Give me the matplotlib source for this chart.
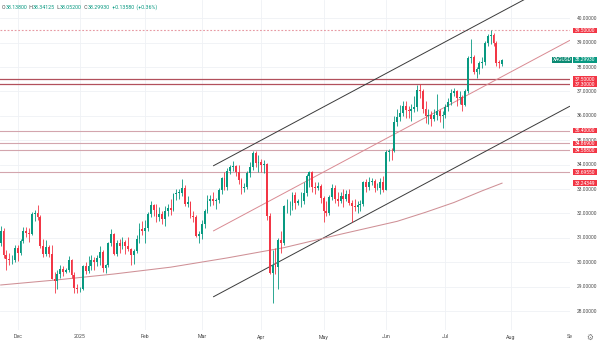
import matplotlib
matplotlib.use("Agg")
import matplotlib.pyplot as plt
import matplotlib.transforms as mtransforms
from matplotlib.patches import Rectangle
import numpy as np
import pandas as pd

plt.rcParams["font.family"] = ["Roboto", "DejaVu Sans"]

symbol = "XAGUSD"
first_day = "2024-11-22"
last_day = "2025-07-29"
axis_last_day = "2025-09-30"

# Daily OHLC, XAGUSD
opens = [30.80, 31.28, 30.30, 30.15, 30.08, 30.10, 30.60, 30.38, 30.89, 31.29,
         31.22, 31.18, 31.96, 32.03, 31.87, 30.68, 30.34, 30.61, 30.36, 29.33,
         29.24, 29.53, 29.71, 29.62, 29.70, 30.10, 29.46, 28.96, 28.89, 28.92,
         29.83, 29.66, 29.86, 30.10, 30.00, 30.18, 30.42, 29.76, 29.88, 30.80,
         31.15, 30.35, 30.81, 30.67, 30.84, 30.66, 30.56, 30.28, 30.48, 30.97,
         31.36, 31.30, 31.42, 31.97, 32.36, 32.16, 31.86, 31.96, 31.77, 32.10,
         32.22, 32.16, 32.80, 32.85, 32.85, 33.05, 32.38, 32.46, 31.91, 31.87,
         31.09, 31.16, 31.55, 32.09, 32.53, 32.58, 32.51, 32.57, 32.95, 33.45,
         33.08, 33.74, 33.90, 33.96, 33.69, 33.37, 33.05, 33.09, 33.65, 33.92,
         34.48, 34.08, 34.12, 33.98, 34.02, 31.90, 29.58, 29.87, 29.79, 30.90,
         30.78, 32.29, 32.30, 32.30, 32.74, 32.43, 32.50, 32.53, 32.86, 33.54,
         33.71, 33.09, 33.04, 33.14, 32.62, 32.12, 32.00, 32.68, 33.05, 32.60,
         32.52, 32.73, 32.58, 32.79, 32.42, 32.30, 32.26, 32.35, 32.38, 33.29,
         33.07, 33.28, 33.32, 33.03, 33.03, 33.30, 32.98, 34.52, 34.57, 34.55,
         35.77, 35.97, 36.11, 36.42, 36.24, 36.21, 36.29, 36.35, 37.05, 37.04,
         36.28, 36.00, 36.05, 35.89, 36.03, 36.19, 35.99, 36.03, 36.35, 36.59,
         36.94, 37.00, 36.74, 36.77, 36.44, 37.01, 38.38, 38.40, 37.79, 37.93,
         38.17, 38.19, 38.99, 39.28, 39.30, 38.98, 38.18, 38.138]
highs = [31.47, 31.42, 30.50, 30.40, 30.30, 30.70, 30.70, 30.95, 31.45, 31.45,
         31.40, 32.05, 32.15, 32.33, 31.95, 30.95, 30.90, 30.70, 30.70, 29.60,
         29.70, 29.90, 29.85, 29.75, 30.25, 30.15, 29.60, 29.10, 29.00, 29.90,
         30.00, 30.25, 30.30, 30.20, 30.30, 30.65, 30.50, 29.95, 30.85, 31.35,
         31.20, 30.90, 30.95, 31.05, 30.90, 31.05, 30.60, 30.55, 31.10, 31.60,
         31.70, 31.75, 32.05, 32.50, 32.40, 32.40, 32.25, 32.10, 32.30, 32.40,
         32.60, 32.85, 33.00, 33.00, 33.40, 33.15, 32.70, 32.50, 32.10, 31.95,
         31.30, 31.75, 32.20, 32.75, 32.75, 32.90, 32.65, 33.05, 33.50, 33.70,
         33.85, 34.00, 34.15, 34.00, 34.00, 33.45, 33.25, 33.75, 34.10, 34.55,
         34.58, 34.40, 34.25, 34.20, 34.05, 32.00, 30.50, 30.60, 31.00, 31.30,
         32.35, 32.60, 32.50, 32.90, 32.90, 32.60, 32.90, 33.30, 33.60, 33.75,
         33.75, 33.30, 33.30, 33.20, 32.70, 32.50, 32.75, 33.20, 33.15, 32.90,
         32.90, 33.00, 32.95, 33.00, 32.55, 32.60, 32.50, 32.55, 33.35, 33.40,
         33.50, 33.45, 33.40, 33.25, 33.45, 33.55, 34.60, 34.65, 34.70, 36.00,
         36.30, 36.45, 36.60, 36.60, 36.40, 36.50, 36.80, 37.25, 37.30, 37.10,
         36.60, 36.30, 36.20, 36.30, 36.90, 36.30, 36.20, 36.50, 36.75, 37.10,
         37.15, 37.05, 37.00, 36.85, 37.10, 38.45, 39.15, 38.50, 38.00, 38.25,
         38.40, 39.05, 39.35, 39.53, 39.40, 39.05, 38.30, 38.34125]
lows = [30.65, 30.18, 29.68, 29.90, 29.95, 30.00, 30.05, 30.30, 30.80, 31.05,
        30.85, 31.10, 31.70, 31.75, 30.60, 30.20, 30.25, 30.20, 29.30, 28.74,
        28.90, 29.35, 29.45, 29.55, 29.60, 29.35, 28.75, 28.75, 28.80, 28.85,
        29.50, 29.55, 29.70, 29.70, 29.85, 29.90, 29.60, 29.55, 29.80, 30.65,
        30.30, 30.25, 30.40, 30.55, 30.35, 30.45, 29.90, 29.95, 30.40, 30.80,
        31.10, 30.80, 31.30, 31.85, 31.90, 31.65, 31.70, 31.55, 31.50, 31.90,
        31.95, 32.10, 32.55, 32.60, 32.70, 32.30, 32.25, 31.80, 31.65, 31.05,
        30.80, 30.95, 31.40, 32.00, 32.30, 32.35, 32.20, 32.45, 32.80, 32.95,
        32.95, 33.60, 33.75, 33.55, 33.20, 32.80, 32.90, 33.00, 33.50, 33.80,
        33.90, 33.70, 33.70, 33.65, 31.75, 29.50, 28.33, 29.50, 28.90, 30.40,
        30.70, 32.00, 31.95, 32.15, 32.20, 32.35, 32.25, 32.40, 32.70, 33.10,
        32.90, 32.80, 32.95, 32.45, 31.65, 31.90, 31.95, 32.55, 32.45, 32.30,
        32.45, 32.25, 32.50, 32.35, 31.65, 32.10, 32.00, 32.10, 32.30, 32.90,
        32.95, 33.15, 32.90, 32.95, 32.80, 32.90, 32.95, 34.15, 34.20, 34.50,
        35.60, 35.80, 36.00, 35.90, 35.90, 35.80, 36.15, 36.20, 36.75, 36.10,
        35.70, 35.65, 35.60, 35.80, 35.85, 35.75, 35.50, 35.90, 36.20, 36.45,
        36.80, 36.40, 36.50, 36.20, 36.40, 36.95, 38.15, 37.70, 37.55, 37.70,
        37.95, 38.10, 38.85, 38.95, 38.85, 38.05, 37.95, 38.052]
closes = [31.28, 30.30, 30.15, 30.08, 30.10, 30.60, 30.38, 30.89, 31.29, 31.22,
          31.18, 31.96, 32.03, 31.87, 30.68, 30.34, 30.61, 30.36, 29.33, 29.24,
          29.53, 29.71, 29.62, 29.70, 30.10, 29.46, 28.96, 28.89, 28.92, 29.83,
          29.66, 29.86, 30.10, 30.00, 30.18, 30.42, 29.76, 29.88, 30.80, 31.15,
          30.35, 30.81, 30.67, 30.84, 30.66, 30.56, 30.28, 30.48, 30.97, 31.36,
          31.30, 31.42, 31.97, 32.36, 32.16, 31.86, 31.96, 31.77, 32.10, 32.22,
          32.16, 32.80, 32.85, 32.85, 33.05, 32.38, 32.46, 31.91, 31.87, 31.09,
          31.16, 31.55, 32.09, 32.53, 32.58, 32.51, 32.57, 32.95, 33.45, 33.08,
          33.74, 33.90, 33.96, 33.69, 33.37, 33.05, 33.09, 33.65, 33.92, 34.48,
          34.08, 34.12, 33.98, 34.02, 31.90, 29.58, 29.87, 29.79, 30.90, 30.78,
          32.29, 32.30, 32.30, 32.74, 32.43, 32.50, 32.53, 32.86, 33.54, 33.71,
          33.09, 33.04, 33.14, 32.62, 32.12, 32.00, 32.68, 33.05, 32.60, 32.52,
          32.73, 32.58, 32.79, 32.42, 32.30, 32.26, 32.35, 32.38, 33.29, 33.07,
          33.28, 33.32, 33.03, 33.03, 33.30, 32.98, 34.52, 34.57, 34.55, 35.77,
          35.97, 36.11, 36.42, 36.24, 36.21, 36.29, 36.35, 37.05, 37.04, 36.28,
          36.00, 36.05, 35.89, 36.03, 36.19, 35.99, 36.03, 36.35, 36.59, 36.94,
          37.00, 36.74, 36.77, 36.44, 37.01, 38.38, 38.40, 37.79, 37.93, 38.17,
          38.19, 38.99, 39.28, 39.30, 38.98, 38.18, 38.1635, 38.2993]

# Horizontal support / resistance levels
level_prices = [37.5, 37.3, 35.4, 34.869, 34.588, 33.6955]
level_major = [True, True, False, False, False, False]
recent_high = 39.5

# 200-day moving average, sampled
ma_dates = ["2024-11-22", "2024-12-20", "2025-01-17", "2025-02-14", "2025-03-14",
            "2025-04-11", "2025-05-09", "2025-06-06", "2025-06-20", "2025-07-04",
            "2025-07-18", "2025-07-29"]
ma_values = [29.07, 29.28, 29.52, 29.80, 30.18, 30.60, 31.15, 31.68, 32.05, 32.45,
             32.93, 33.24349]

# Trend channel: (date, price) anchors for each line
channel_dates = ["2025-03-07", "2025-07-29"]
channel_upper = [33.95, 40.28]
channel_mid = [31.28, 37.61]
channel_lower = [28.58, 34.91]

price_ticks = [28, 29, 30, 31, 32, 33, 34, 35, 36, 37, 38, 39, 40]
month_names = {1: "2025", 2: "Feb", 3: "Mar", 4: "Apr", 5: "May", 6: "Jun",
               7: "Jul", 8: "Aug", 12: "Dec"}

UP = "#089981"
DOWN = "#f23645"
GRID = "#eff1f5"
AXIS_TXT = "#4a4a4a"
FS = 3.5

axis_dates = pd.bdate_range(first_day, axis_last_day)
bar_dates = pd.bdate_range(first_day, last_day)
bar_idx = np.array([axis_dates.get_loc(d) for d in bar_dates])

o = np.array(opens)
h = np.array(highs)
l = np.array(lows)
c = np.array(closes)

fig = plt.figure(figsize=(6.0, 3.44), dpi=100)
fig.patch.set_facecolor("white")
ax = fig.add_axes([0.0, 14 / 344, 570 / 600, 330 / 344])
ax.set_facecolor("white")
for s in ax.spines.values():
    s.set_visible(False)

ax.set_xlim(-0.25, 201.0)
ax.set_ylim(27.225, 40.75)
ax.set_xticks([])
ax.set_yticks([])
px_per_price = 330 / (40.75 - 27.225)

# grid
for p in price_ticks:
    ax.axhline(p, color=GRID, lw=0.6, zorder=0)
month_starts = []
prev = None
for i, d in enumerate(axis_dates):
    if prev is not None and d.month != prev:
        month_starts.append((i, d.month))
    prev = d.month
for i, m in month_starts:
    if m in month_names:
        ax.axvline(i, color=GRID, lw=0.6, zorder=0)

# horizontal levels
ax.axhline(recent_high, color="#e79aa3", lw=0.8, ls=(0, (1.6, 1.6)), zorder=1)
for p, major in zip(level_prices, level_major):
    ax.axhline(p, color="#b2505c" if major else "#d3a5ad", lw=0.9 if major else 0.8,
               zorder=1)

# trend channel, extended to the right edge
ch_idx = [axis_dates.get_loc(pd.Timestamp(d)) for d in channel_dates]
x_end = ax.get_xlim()[1]
for vals, col in ((channel_upper, "#3a3a3a"), (channel_mid, "#d98a92"),
                  (channel_lower, "#3a3a3a")):
    slope = (vals[1] - vals[0]) / (ch_idx[1] - ch_idx[0])
    xs = [ch_idx[0], x_end]
    ys = [vals[0], vals[0] + slope * (x_end - ch_idx[0])]
    ax.plot(xs, ys, color=col, lw=0.7, zorder=2, solid_capstyle="butt")

# moving average
ma_idx = [axis_dates.get_loc(pd.Timestamp(d)) for d in ma_dates]
ax.plot(ma_idx, ma_values, color="#cf9096", lw=0.75, zorder=2)

# candles
colors = np.where(c >= o, UP, DOWN)
ax.vlines(bar_idx, l, h, colors=colors, lw=0.6, zorder=3)
body = np.maximum(np.abs(c - o), 0.025)
ax.bar(bar_idx, body, bottom=np.minimum(o, c), width=0.66, color=colors,
       linewidth=0, zorder=4)

# price scale labels
ytr = ax.get_yaxis_transform()
for p in price_ticks:
    ax.text(1.0125, p, f"{p:.5f}", transform=ytr, fontsize=FS, color=AXIS_TXT,
            va="center", ha="left", clip_on=False, zorder=5)

box_h = 5.6 / px_per_price

def tag(price, text, fc, x0=573 / 570, x1=597 / 570, z=7):
    ax.add_patch(Rectangle((x0, price - box_h / 2), x1 - x0, box_h, transform=ytr,
                           facecolor=fc, edgecolor="none", clip_on=False, zorder=z))
    ax.text((x0 + x1) / 2, price, text, transform=ytr, fontsize=FS, color="white",
            va="center", ha="center", clip_on=False, zorder=z + 0.5)

tag(recent_high, f"{recent_high:.5f}", DOWN)
for k, p in enumerate(level_prices):
    tag(p, f"{p:.5f}", DOWN, z=7 + k)
tag(ma_values[-1], f"{ma_values[-1]:.5f}", DOWN, z=14)
tag(closes[-1], f"{closes[-1]:.5f}", UP, z=15)
tag(closes[-1], symbol, "#0b8a73", x0=552 / 570, x1=572 / 570, z=15)

# time scale labels
xtr = mtransforms.blended_transform_factory(ax.transData, fig.transFigure)
for i, m in month_starts:
    if m in month_names:
        ax.text(i, 1 - 337 / 344, month_names[m], transform=xtr, fontsize=3.8,
                color=AXIS_TXT, ha="center", va="center", clip_on=False)
fig.text(567 / 600, 1 - 337 / 344, "Se", fontsize=3.8, color=AXIS_TXT,
         ha="left", va="center")
fig.text(590 / 600, 1 - 337 / 344, "\u2699", fontsize=5.5, color="#777777",
         ha="center", va="center", family="DejaVu Sans")

# OHLC header, laid out piece by piece on one baseline
chg = closes[-1] - closes[-2]
parts = [("O", AXIS_TXT), (f"{opens[-1]:.5f}", UP), (" H", AXIS_TXT),
         (f"{highs[-1]:.5f}", UP), (" L", AXIS_TXT), (f"{lows[-1]:.5f}", UP),
         (" C", AXIS_TXT), (f"{closes[-1]:.5f}", UP),
         (f" {chg:+.5f} ({chg / closes[-2] * 100:+.2f}%)", UP)]
renderer = fig.canvas.get_renderer()
x_px = 2.0
base_y = 1 - 9 / 344
for txt, col in parts:
    t = fig.text(x_px / 600, base_y, txt.replace(" ", "\u2009\u2009"),
                 fontsize=3.8, color=col, ha="left", va="baseline")
    x_px += t.get_window_extent(renderer).width

fig.savefig("out.png", dpi=100, facecolor="white")
